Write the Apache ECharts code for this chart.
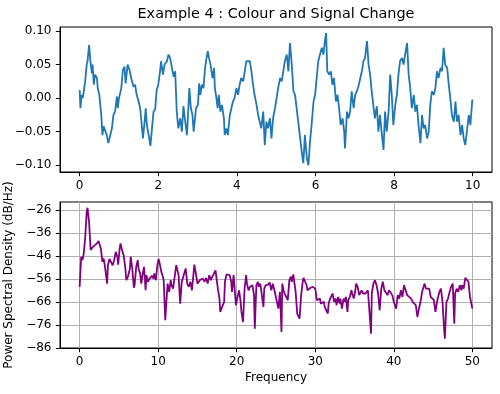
<!DOCTYPE html>
<html><head><meta charset="utf-8">
<script src="https://cdn.jsdelivr.net/npm/echarts@6/dist/echarts.min.js"></script>
<style>html,body{margin:0;padding:0;background:#fff}#c{width:500px;height:394px}</style>
</head><body><div id="c"></div>
<script>
const titleText = 'Example 4 : Colour and Signal Change';
const topXTicks = [0, 2, 4, 6, 8, 10];
const topYTicks = [-0.1, -0.05, 0, 0.05, 0.1];
const botXTicks = [0, 10, 20, 30, 40, 50];
const botYTicks = [-86, -76, -66, -56, -46, -36, -26];
const botXName = 'Frequency';
const botYName = 'Power Spectral Density (dB/Hz)';

const timeT = [0.00,0.02,0.05,0.08,0.14,0.18,0.20,0.24,0.27,0.31,0.33,0.36,0.39,0.44,0.46,0.50,0.55,0.58,0.61,0.65,0.69,0.73,0.78,0.82,0.86,0.90,0.95,0.97,1.00,1.06,1.10,1.14,1.17,1.22,1.27,1.31,1.37,1.41,1.45,1.50,1.54,1.58,1.61,1.65,1.68,1.71,1.77,1.80,1.84,1.88,1.92,1.96,2.00,2.05,2.07,2.12,2.16,2.22,2.26,2.30,2.35,2.39,2.43,
2.47,2.51,2.56,2.60,2.64,2.69,2.73,2.77,2.79,2.83,2.87,2.90,2.96,3.01,3.04,3.07,3.11,3.15,3.19,3.22,3.26,3.29,3.33,3.38,3.42,3.44,3.48,3.51,3.54,3.58,3.62,3.67,3.69,3.73,3.77,3.82,3.86,3.90,3.94,3.99,4.03,4.07,4.11,4.16,4.20,4.24,4.28,4.33,4.37,4.41,4.45,4.50,4.54,4.58,4.62,4.67,4.71,4.75,4.79,4.84,4.88,4.92,
4.97,5.01,5.05,5.10,5.14,5.18,5.22,5.27,5.31,5.35,5.39,5.44,5.48,5.52,5.56,5.61,5.65,5.69,5.73,5.78,5.82,5.86,5.90,5.95,5.99,6.03,6.07,6.12,6.16,6.20,6.24,6.27,6.30,6.35,6.39,6.43,6.47,6.52,6.56,6.60,6.64,6.69,6.73,6.75,6.80,6.84,6.88,6.92,6.97,7.01,7.05,7.09,7.14,7.18,7.22,7.26,7.31,7.35,7.39,7.43,7.48,
7.51,7.56,7.60,7.64,7.69,7.73,7.77,7.81,7.86,7.90,7.94,7.98,8.03,8.07,8.11,8.15,8.20,8.24,8.28,8.33,8.37,8.41,8.45,8.50,8.54,8.58,8.62,8.67,8.71,8.75,8.79,8.84,8.88,8.92,8.96,9.01,9.05,9.09,9.13,9.18,9.22,9.26,9.30,9.35,9.39,9.43,9.47,9.52,9.56,9.60,9.64,9.69,9.73,9.77,9.81,9.86,9.90,9.94,9.99];
const signalS = [0.012,-0.015,0.005,0.0,0.025,0.05,0.055,0.079,0.057,0.037,0.05,0.02,0.035,0.03,0.015,0.005,-0.025,-0.055,-0.042,-0.04,-0.055,-0.067,-0.055,-0.045,-0.025,-0.02,0.0025,-0.015,0,0.015,0.042,0.047,0.022,0.05,0.042,0.03,0.017,0.02,0.005,-0.005,-0.015,-0.04,-0.06,-0.037,-0.015,-0.04,-0.06,-0.071,-0.045,-0.02,-0.017,0.012,0.02,0.042,0.055,0.035,0.05,0.055,0.065,0.06,0.062,0.032,0.04,
-0.02,-0.045,-0.03,-0.05,-0.012,-0.037,-0.055,-0.01,0.015,-0.015,-0.025,-0.05,-0.015,-0.01,0.022,0.005,0.02,0.015,0.045,0.057,0.07,0.06,0.05,0.03,0.045,0.015,0.0,-0.015,0.005,-0.02,-0.01,-0.03,-0.055,-0.045,-0.055,-0.025,-0.015,-0.005,0,0.015,0.005,0.02,0.03,0.025,0.04,0.055,0.055,0.055,0.04,0.02,0.005,-0.01,-0.025,-0.035,-0.045,-0.02,-0.07,-0.035,-0.045,-0.03,-0.06,-0.03,
-0.015,0,0.015,0.03,0.025,0.04,0.055,0.065,0.04,0.082,0.055,0.01,0.005,-0.015,-0.035,-0.06,-0.08,-0.097,-0.055,-0.09,-0.1,-0.065,-0.04,-0.005,0.005,0.03,0.055,0.057,0.075,0.065,0.085,0.097,0.04,0.035,0.04,0.02,0.03,-0.005,0.005,-0.015,-0.04,-0.03,-0.05,-0.075,-0.02,-0.03,-0.02,0.01,-0.015,0.005,0.01,0.017,0.03,0.04,0.055,0.06,0.085,0.05,0.035,0.01,-0.015,
-0.03,-0.012,-0.05,-0.025,-0.055,-0.077,-0.02,-0.05,-0.02,0.035,0.005,-0.04,-0.01,0.005,0.035,0.055,0.06,0.05,0.065,0.082,0.035,0.015,-0.015,0.005,-0.02,-0.01,-0.04,-0.067,-0.025,-0.045,-0.04,-0.06,-0.05,-0.01,0.01,0.005,0.015,0.04,0.03,0.045,0.04,0.075,0.05,0.045,0.02,0,-0.025,-0.035,-0.005,-0.035,-0.025,-0.055,-0.04,-0.06,-0.07,-0.045,-0.025,-0.04,-0.002];

const freqF = [0,0.2,0.35,0.5,0.7,0.9,1.0,1.2,1.4,1.5,1.7,1.9,2.2,2.4,2.55,2.7,2.9,3.05,3.2,3.5,3.6,3.8,4.0,4.2,4.4,4.6,4.8,4.9,5.1,5.2,5.4,5.6,5.8,5.95,6.15,6.4,6.5,6.7,6.9,7.0,7.2,7.4,7.5,7.7,7.85,8.0,8.2,8.4,8.5,8.7,8.9,9.0,9.2,9.4,9.5,9.7,9.9,10.05,10.2,10.4,10.6,10.7,10.9,11.1,11.2,11.4,11.6,11.7,11.9,12.1,
12.3,12.5,12.6,12.8,13.0,13.2,13.5,13.7,13.9,14.1,14.3,14.5,14.6,14.8,15.0,15.3,15.5,15.7,15.9,16.1,16.3,16.5,16.7,16.9,17.1,17.3,17.4,17.6,17.8,17.9,18.1,18.4,18.5,18.7,18.9,19.1,19.3,19.4,19.6,19.8,19.9,20.1,20.3,20.5,20.6,20.8,21.0,21.2,21.3,21.5,21.7,21.8,22.0,22.2,22.3,22.5,22.7,22.8,23.0,23.2,23.4,23.5,23.7,23.9,24.0,24.2,24.4,24.6,24.8,
25.3,25.5,25.7,25.8,26.0,26.2,26.3,26.5,26.7,26.9,27.0,27.2,27.4,27.5,27.7,27.9,28.0,28.2,28.4,28.5,28.7,28.9,29.0,29.2,29.4,29.5,29.7,29.9,30.0,30.2,30.4,30.6,30.7,30.9,31.1,31.2,31.4,31.6,31.7,31.9,32.1,32.2,32.4,32.6,32.7,32.9,33.1,33.2,33.4,33.6,33.7,33.9,34.1,34.2,34.4,34.6,34.7,34.9,35.1,35.2,35.4,35.6,35.7,35.9,36.1,36.2,36.4,36.6,36.7,36.9,37.1,37.2,37.4,37.6,
37.8,38.0,38.2,38.4,38.6,38.8,39.0,39.2,39.4,39.6,39.8,40.0,40.3,40.5,40.7,40.9,41.1,41.3,41.5,41.7,41.9,42.2,42.4,42.6,42.8,43.0,43.2,43.4,43.6,43.9,44.1,44.3,44.5,44.7,44.9,45.1,45.3,45.5,45.8,46.0,46.2,46.4,46.5,46.7,46.9,47.1,47.3,47.5,47.7,47.8,48.0,48.2,48.4,48.6,48.7,48.9,49.1,49.3,49.5,49.7,50.0];
const psdDb = [-59.4,-46.3,-47.8,-45.6,-38.4,-26.7,-25,-31,-43.4,-42.7,-42,-42,-40.5,-39.5,-38.7,-42.7,-48.5,-47,-50,-58,-50,-47.3,-47.8,-50,-47.8,-44.2,-46.3,-49.7,-42.7,-40.5,-43.4,-45.6,-50.7,-56.5,-55,-51.4,-46.3,-51.4,-59.8,-58.7,-50.7,-47.8,-51.4,-53.6,-58,-54.3,-50.7,-60.9,-54.3,-57.2,-55.8,-56.5,-54.6,-55.8,-53.6,-56.5,-50,-47.3,-49.3,-52.9,-55,-56.5,-73.9,-63,-58,-61.6,-56.5,-58.7,-60.2,-55,
-50,-50.7,-54.3,-66.7,-57.2,-56.5,-51.4,-58,-59.4,-57.2,-60.9,-53.6,-49.7,-53.6,-58,-56.5,-57.2,-55.8,-57.2,-55.5,-58,-54.3,-56.5,-55,-55.8,-52.2,-55,-60.2,-64.5,-70.3,-70.3,-65.9,-57.2,-54,-53.6,-54.3,-57.2,-61.6,-54.3,-53.6,-67.4,-63.8,-60.9,-65.9,-70.3,-74.7,-60.2,-54.3,-58,-60.9,-59.4,-60.2,-58.7,-63,-77.6,-58.7,-57.2,-59.4,-58,-63,-68.1,-60.2,-58.7,-58,-58.4,-57.5,-60.9,-58,-60.9,
-68.9,-61.6,-79,-58,-61.6,-63,-63,-65.2,-56.5,-55,-57.2,-54,-54.3,-61.6,-71,-71.8,-73.2,-63,-57.2,-55.5,-55.8,-58.7,-60.9,-60.2,-59.8,-60.5,-59.4,-59.8,-60.2,-65.2,-65.9,-64.5,-66.7,-67.4,-65.9,-68.1,-67.4,-71,-66.7,-64.5,-65.2,-62.3,-65.9,-64.5,-67.4,-63.8,-66.7,-64.5,-68.9,-64.5,-65.9,-63.8,-70.3,-65.2,-63.8,-60.9,-62.3,-64.5,-60.9,-58,-59.4,-63,-62.3,-60.9,-62.3,-61.6,-62.3,-61.6,-60.9,-60.2,-79.8,-62.3,-58,-56.5,
-58.7,-62.3,-69.6,-60.2,-57.2,-60.9,-60.2,-63,-60.9,-61.6,-63,-65.9,-68.9,-63,-64.5,-60.9,-63.8,-58.7,-58,-63,-62.3,-64.5,-65.9,-65.2,-67.4,-72.5,-68.9,-65.9,-61.6,-58,-60.2,-60.5,-60.2,-63.8,-64.5,-65.2,-70.3,-65.9,-61.6,-60.2,-65.9,-77.6,-82,-65.9,-64.5,-61.6,-59.4,-58,-75.4,-62.3,-60.2,-61.6,-58.7,-60.9,-58.7,-60.2,-55.5,-55,-57.2,-63.8,-68.9];

const FONT = 'DejaVu Sans';
const minusFmt = d => v => (v < 0 ? '\u2212' : '') + Math.abs(v).toFixed(d);

function xAx(gi, min, max, ticks, grid, name) {
  return {
    type: 'value', gridIndex: gi, min: min, max: max,
    axisLine: { show: true, onZero: false, lineStyle: { color: '#000', width: 1 } },
    axisTick: { show: true, inside: false, length: 4.2, customValues: ticks, lineStyle: { color: '#000', width: 1 } },
    axisLabel: { customValues: ticks, margin: 8, color: '#000', fontFamily: FONT, fontSize: 12, formatter: v => String(v) },
    splitLine: { show: grid, lineStyle: { color: '#b0b0b0', width: 1 } },
    name: name || '', nameLocation: 'middle', nameGap: 24,
    nameTextStyle: { color: '#000', fontFamily: FONT, fontSize: 12 }
  };
}
function yAx(gi, min, max, ticks, grid, dec, name) {
  return {
    type: 'value', gridIndex: gi, min: min, max: max,
    axisLine: { show: true, onZero: false, lineStyle: { color: '#000', width: 1 } },
    axisTick: { show: true, inside: false, length: 4.2, customValues: ticks, lineStyle: { color: '#000', width: 1 } },
    axisLabel: { customValues: ticks, margin: 8.5, color: '#000', fontFamily: FONT, fontSize: 12, formatter: minusFmt(dec) },
    splitLine: { show: grid, lineStyle: { color: '#b0b0b0', width: 1 } },
    name: name || '', nameLocation: 'middle', nameGap: 41, nameRotate: 90,
    nameTextStyle: { color: '#000', fontFamily: FONT, fontSize: 12 }
  };
}

const chart = echarts.init(document.getElementById('c'), null, { renderer: 'canvas' });
chart.setOption({
  animation: false,
  backgroundColor: '#fff',
  graphic: [{ type: 'text', x: 276, y: 14, style: { text: titleText, fontFamily: FONT, fontSize: 14.4, fill: '#000', align: 'center', verticalAlign: 'middle' } }],
  grid: [
    { left: 60, top: 27, width: 432, height: 145, show: true, borderColor: '#000', borderWidth: 1, backgroundColor: 'transparent', containLabel: false, outerBoundsMode: 'none' },
    { left: 60, top: 202, width: 432, height: 146, show: true, borderColor: '#000', borderWidth: 1, backgroundColor: 'transparent', containLabel: false, outerBoundsMode: 'none' }
  ],
  xAxis: [
    xAx(0, -0.5, 10.49, topXTicks, false),
    xAx(1, -2.5, 52.5, botXTicks, true, botXName)
  ],
  yAxis: [
    yAx(0, -0.11, 0.106, topYTicks, false, 2),
    yAx(1, -86, -22.5, botYTicks, true, 0, botYName)
  ],
  series: [
    { type: 'line', xAxisIndex: 0, yAxisIndex: 0, showSymbol: false, lineStyle: { color: '#1f77b4', width: 1.8 }, itemStyle: { color: '#1f77b4' },
      data: timeT.map((t, i) => [t, signalS[i]]) },
    { type: 'line', xAxisIndex: 1, yAxisIndex: 1, showSymbol: false, lineStyle: { color: '#800080', width: 1.8 }, itemStyle: { color: '#800080' },
      data: freqF.map((f, i) => [f, psdDb[i]]) }
  ]
});
</script></body></html>
